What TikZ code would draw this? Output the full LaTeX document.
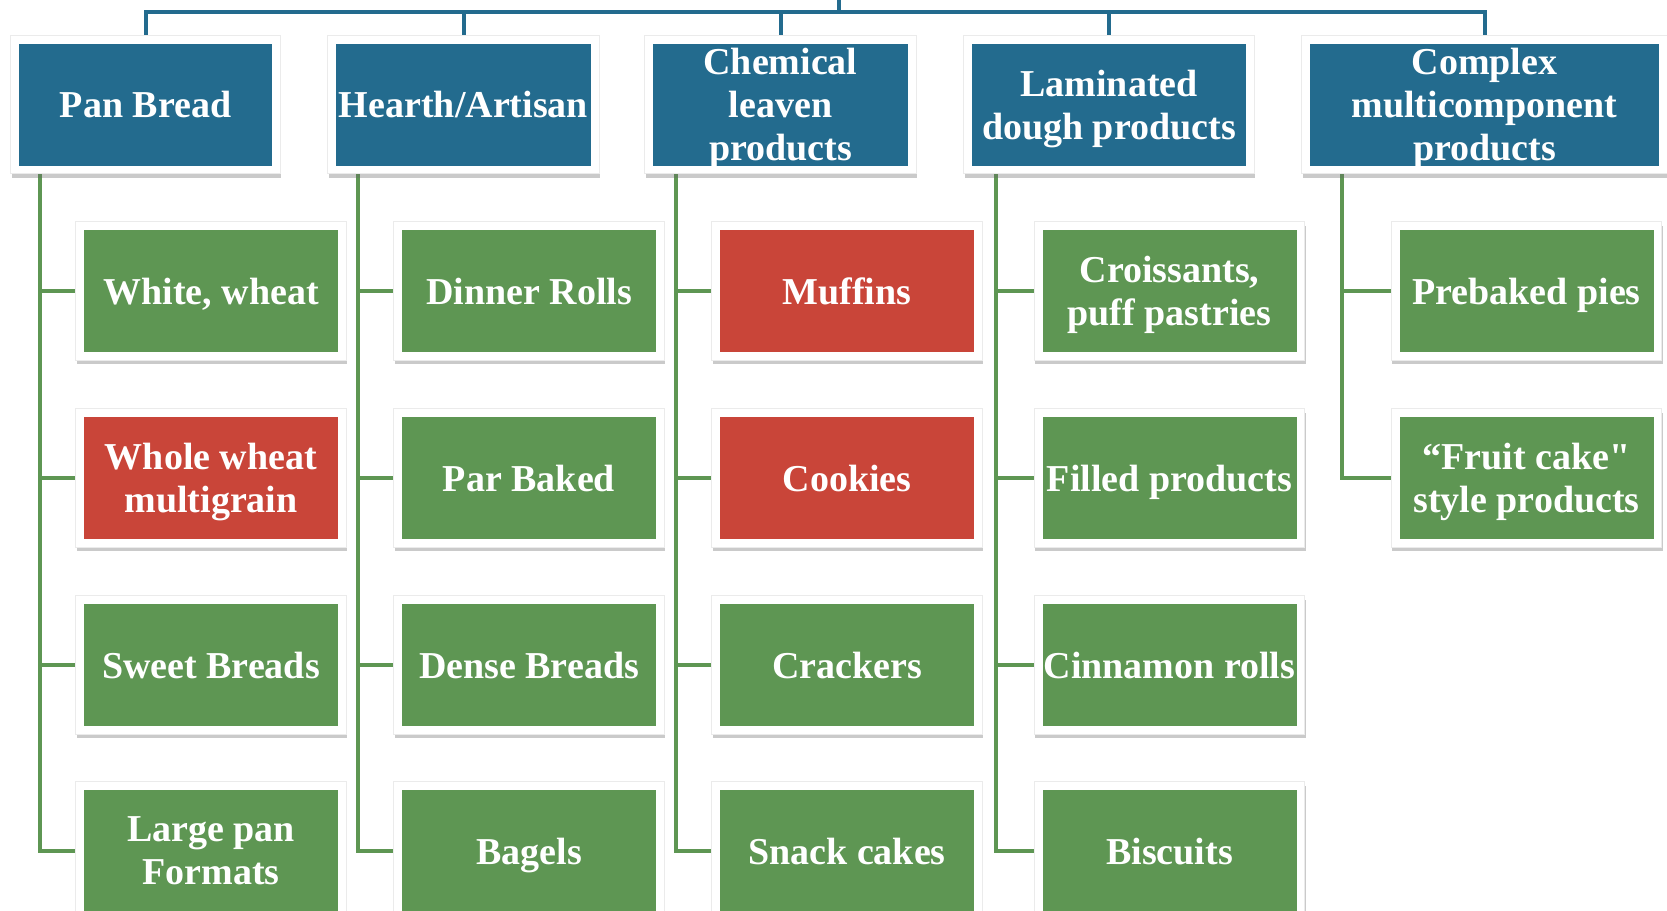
\documentclass[tikz,border=0pt]{standalone}
\usepackage{fontspec}
\setmainfont{Liberation Serif}
\newfontfamily\rawserif{Liberation Serif}
\usetikzlibrary{calc,shadows}
\definecolor{blueC}{RGB}{35,107,142}
\definecolor{greenC}{RGB}{94,150,83}
\definecolor{redC}{RGB}{201,69,57}
\pgfdeclarelayer{bg}
\pgfdeclarelayer{fr}
\pgfsetlayers{bg,fr,main}
\begin{document}
\begin{tikzpicture}[x=1pt,y=-1pt,
  box/.style={inner sep=0pt, minimum width=254pt, minimum height=122pt, align=center, text=white,
    text depth=0pt, font=\fontsize{38}{43}\selectfont\bfseries},
  cat/.style={box, fill=blueC},
  item/.style={box, fill=greenC},
  hot/.style={box, fill=redC},
  bline/.style={draw=blueC, line width=4pt},
  gline/.style={draw=greenC, line width=4pt},
  frm/.style={fill=white, draw=black!8, line width=0.8pt,
    drop shadow={shadow xshift=1pt, shadow yshift=-4pt, opacity=0.35, fill=black!60}}]
\useasboundingbox (0,0) rectangle (1667,910);
% top categories
\node[cat, minimum width=253pt] (pan) at (145.5,104.5) {Pan Bread};
\node[cat, minimum width=255pt] (hearth) at (463.5,104.5) {Hearth/Artisan};
\node[cat, minimum width=255pt] (chem) at (780.5,104.5) {Chemical\\leaven\\products};
\node[cat, minimum width=274pt] (lam) at (1109,104.5) {Laminated\\dough products};
\node[cat, minimum width=349pt] (comp) at (1484.5,104.5) {Complex\\multicomponent\\products};
% column 1
\node[item] (pan1) at (211,291) {White, wheat};
\node[hot]  (pan2) at (211,478) {Whole wheat\\multigrain};
\node[item] (pan3) at (211,665) {Sweet Breads};
\node[item] (pan4) at (211,851) {Large pan\\Formats};
% column 2
\node[item] (hea1) at (529,291) {Dinner Rolls};
\node[item] (hea2) at (529,478) {Par Baked};
\node[item] (hea3) at (529,665) {Dense Breads};
\node[item] (hea4) at (529,851) {Bagels};
% column 3
\node[hot]  (che1) at (847,291) {Muffins};
\node[hot]  (che2) at (847,478) {Cookies};
\node[item] (che3) at (847,665) {Crackers};
\node[item] (che4) at (847,851) {Snack cakes};
% column 4
\node[item] (lam1) at (1169.5,291) {Croissants,\\puff pastries};
\node[item] (lam2) at (1169.5,478) {Filled products};
\node[item] (lam3) at (1169.5,665) {Cinnamon rolls};
\node[item] (lam4) at (1169.5,851) {Biscuits};
% column 5
\node[item] (com1) at (1526.5,291) {Prebaked pies};
\node[item] (com2) at (1526.5,478) {“Fruit cake{\rawserif"}\\style products};
% white frames
\begin{pgfonlayer}{fr}
\foreach \n in {pan,hearth,chem,lam,comp,pan1,pan2,pan3,pan4,hea1,hea2,hea3,hea4,che1,che2,che3,che4,lam1,lam2,lam3,lam4,com1,com2}
  \path[frm] ($(\n.north west)+(-8,-8)$) rectangle ($(\n.south east)+(8,8)$);
\end{pgfonlayer}
% connectors
\begin{pgfonlayer}{bg}
\coordinate (root) at (839,0);
\coordinate (bus) at (839,12);
\draw[bline] (root) -- (bus);
\draw[bline] (pan.north) -- (pan.north |- bus) -- (comp.north |- bus) -- (comp.north);
\foreach \n in {hearth,chem,lam}
  \draw[bline] (\n.north) -- (\n.north |- bus);
\coordinate (panv) at ($(pan.south west)+(21,0)$);
\coordinate (heav) at ($(hearth.south west)+(22,0)$);
\coordinate (chev) at ($(chem.south west)+(23,0)$);
\coordinate (lamv) at ($(lam.south west)+(24,0)$);
\coordinate (comv) at ($(comp.south west)+(32,0)$);
\foreach \v/\c in {panv/pan,heav/hea,chev/che,lamv/lam}
  \foreach \i in {1,2,3,4}
    \draw[gline] (\v) |- (\c\i.west);
\foreach \i in {1,2}
  \draw[gline] (comv) |- (com\i.west);
\end{pgfonlayer}
\end{tikzpicture}
\end{document}
